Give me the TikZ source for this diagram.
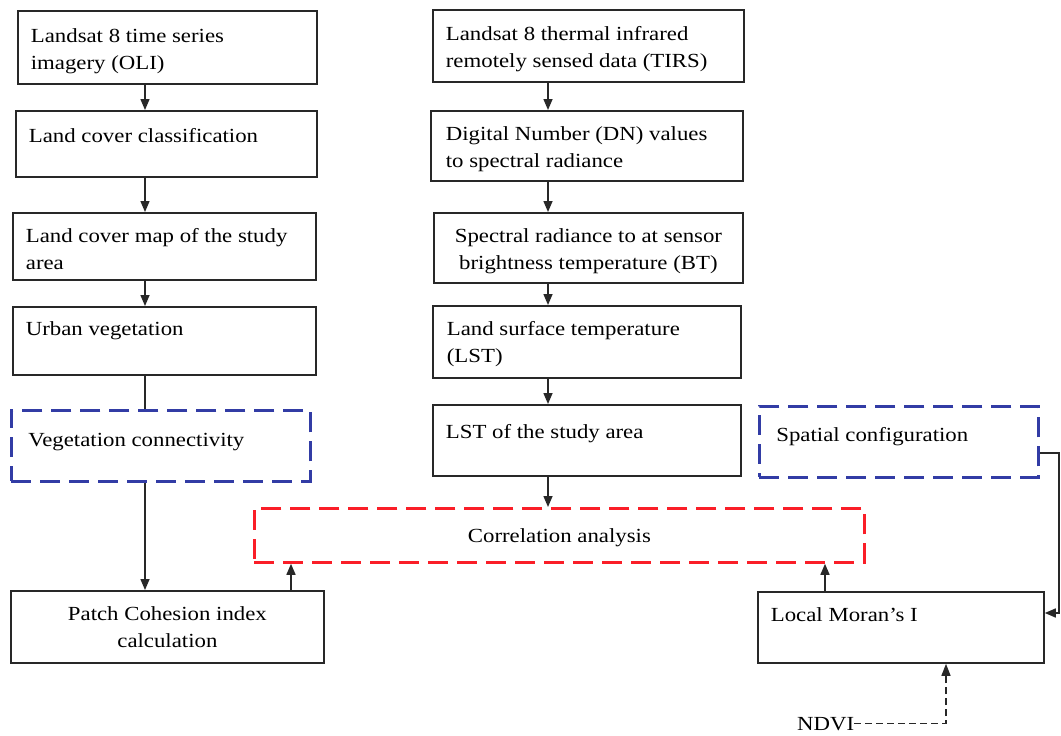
\documentclass[tikz,border=0pt]{standalone}
\usepackage{fontspec}
\setmainfont{Liberation Serif}[FakeStretch=1.14]
\usetikzlibrary{arrows.meta}
\definecolor{dblue}{RGB}{50,60,165}
\definecolor{dred}{RGB}{250,30,40}
\definecolor{lnc}{RGB}{40,40,40}
\newcommand{\bt}[5]{\parbox[c][#2][t]{#1}{#4\rule{0pt}{#3}#5}}
\newcommand{\lft}[1]{\raggedright\leftskip=#1\relax}
\tikzset{
  box/.style={draw=lnc, line width=1.8pt, anchor=north west, inner sep=0pt,
    font=\fontsize{20}{27}\selectfont},
  dbox/.style={box, draw=dblue, line width=2.8pt, dash pattern=on 20pt off 9pt},
  rbox/.style={box, draw=dred, line width=2.8pt, dash pattern=on 20pt off 9pt},
  arr/.style={draw=lnc, line width=1.5pt, -{Triangle[length=11pt,width=9pt]}},
  ln/.style={draw=lnc, line width=1.5pt},
  ndviln/.style={draw=lnc, line width=1.3pt, dash pattern=on 7pt off 4pt, -{Triangle[length=12pt,width=9pt]}}
}
\begin{document}
\begin{tikzpicture}[x=1pt,y=-1pt]
\useasboundingbox (0,0) rectangle (1061,736);
\fill[white] (0,0) rectangle (1061,736);
% left column
\node[box] (l1) at (17,10) {\bt{299pt}{73pt}{32pt}{\lft{13pt}}{Landsat 8 time series\\imagery (OLI)}};
\node[box] (l2) at (15,110) {\bt{301pt}{66pt}{32pt}{\lft{13pt}}{Land cover classification}};
\node[box] (l3) at (12,212) {\bt{303pt}{67pt}{30pt}{\lft{13pt}}{Land cover map of the study\\area}};
\node[box] (l4) at (12,306) {\bt{303pt}{68pt}{29pt}{\lft{13pt}}{Urban vegetation}};
\node[dbox] (vc) at (10,409) {\bt{299pt}{71pt}{36pt}{\lft{17pt}}{Vegetation connectivity}};
\node[box] (pc) at (10,590) {\bt{313pt}{72pt}{30pt}{\centering}{Patch Cohesion index\\calculation}};
% middle column
\node[box] (m1) at (432,9) {\bt{311pt}{72pt}{31pt}{\lft{13pt}}{Landsat 8 thermal infrared\\remotely sensed data (TIRS)}};
\node[box] (m2) at (430,110) {\bt{312pt}{70pt}{30pt}{\lft{15pt}}{Digital Number (DN) values\\to spectral radiance}};
\node[box] (m3) at (433,212) {\bt{309pt}{70pt}{30pt}{\centering}{Spectral radiance to at sensor\\brightness temperature (BT)}};
\node[box] (m4) at (432,305) {\bt{308pt}{72pt}{30pt}{\lft{14pt}}{Land surface temperature\\(LST)}};
\node[box] (m5) at (432,404) {\bt{308pt}{71pt}{34pt}{\lft{13pt}}{LST of the study area}};
\node[rbox] (ca) at (253,507) {\bt{610pt}{54pt}{34pt}{\centering}{Correlation analysis}};
% right column
\node[dbox] (sc) at (758,405) {\bt{279pt}{71pt}{35pt}{\lft{17pt}}{Spatial configuration}};
\node[box] (lm) at (757,591) {\bt{286pt}{71pt}{30pt}{\lft{13pt}}{Local Moran’s I}};
\node[font=\fontsize{20}{27}\selectfont, anchor=base west, inner sep=0pt] (ndvi) at (797,730) {NDVI};
% guide coordinates
\coordinate (ax) at (145,0);
\coordinate (mx) at (548,0);
\coordinate (px) at (291,0);
\coordinate (qx) at (825,0);
\coordinate (nx) at (946,0);
\coordinate (rx) at (1059,0);
\coordinate (sy) at (0,453);
\coordinate (my) at (0,613);
% connectors
\draw[arr] (l1.south -| ax) -- (l2.north -| ax);
\draw[arr] (l2.south -| ax) -- (l3.north -| ax);
\draw[arr] (l3.south -| ax) -- (l4.north -| ax);
\draw[ln] (l4.south -| ax) -- (vc.north -| ax);
\draw[arr] (vc.south -| ax) -- (pc.north -| ax);
\draw[arr] (pc.north -| px) -- (ca.south -| px);
\draw[arr] (m1.south -| mx) -- (m2.north -| mx);
\draw[arr] (m2.south -| mx) -- (m3.north -| mx);
\draw[arr] (m3.south -| mx) -- (m4.north -| mx);
\draw[arr] (m4.south -| mx) -- (m5.north -| mx);
\draw[arr] (m5.south -| mx) -- (ca.north -| mx);
\draw[arr] (lm.north -| qx) -- (ca.south -| qx);
\draw[arr] (sc.east |- sy) -- (rx |- sy) -- (rx |- my) -- (lm.east |- my);
\draw[ndviln] (ndvi.east) -- (ndvi.east -| nx) -- (lm.south -| nx);
\end{tikzpicture}
\end{document}
